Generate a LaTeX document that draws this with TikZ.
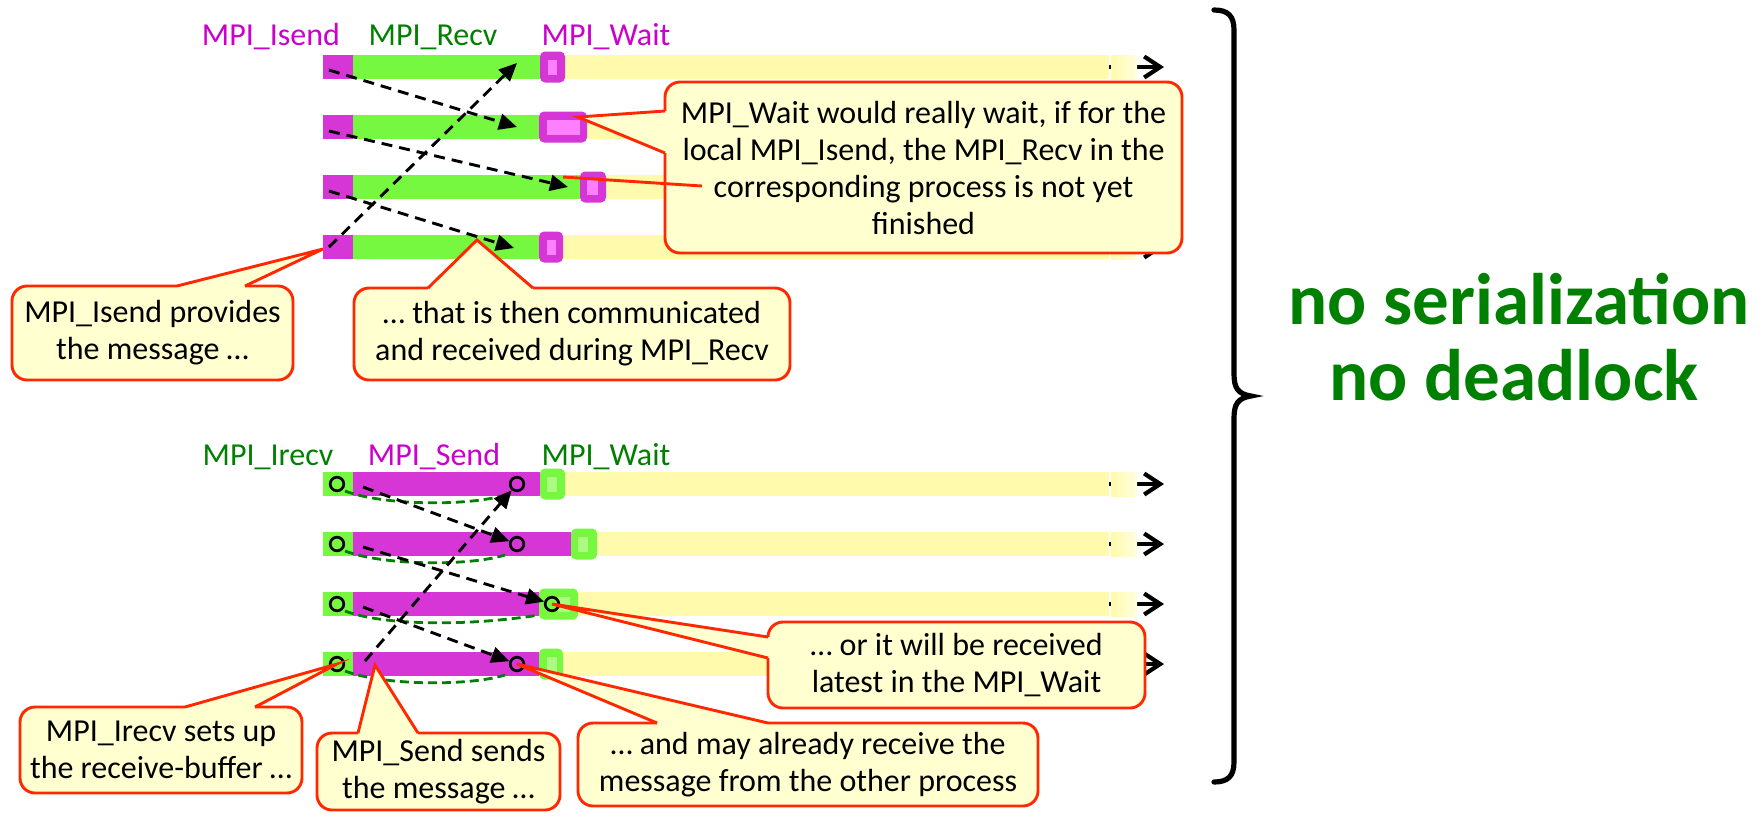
\documentclass[tikz,border=0pt]{standalone}
\usepackage{fontspec}
\setmainfont{Carlito}
\usetikzlibrary{arrows.meta,calc}

\definecolor{mpimag}{RGB}{214,54,214}
\definecolor{mpigreen}{RGB}{118,247,64}
\definecolor{barylw}{RGB}{255,250,172}
\definecolor{pinkin}{RGB}{255,128,255}
\definecolor{greenin}{RGB}{172,250,130}
\definecolor{txtmag}{RGB}{204,0,204}
\definecolor{txtgrn}{RGB}{0,128,0}
\definecolor{callfill}{RGB}{255,255,208}
\definecolor{callred}{RGB}{255,40,0}

% callout with the pointer on its top edge
% #1 name, #2 top-left, #3 bottom-right, #4 left base, #5 tip, #6 right base, #7 text
\newcommand\callouttop[7]{%
  \coordinate (#1nw) at #2;
  \coordinate (#1se) at #3;
  \fill[callbg] (#1nw) rectangle (#1se);
  \fill[callfill] #4 -- #5 -- #6 -- cycle;
  \draw[callrim] #6 -- (#1nw -| #1se) -- (#1se) -- (#1nw |- #1se) -- (#1nw) -- #4;
  \draw[redline] #4 -- #5 -- #6;
  \node[calltext] (#1) at ($(#1nw)!0.5!(#1se)$) {#7};
}
% callout with the pointer on its left edge
% #4 upper base, #5 tip, #6 lower base
\newcommand\calloutleft[7]{%
  \coordinate (#1nw) at #2;
  \coordinate (#1se) at #3;
  \fill[callbg] (#1nw) rectangle (#1se);
  \fill[callfill] #4 -- #5 -- #6 -- cycle;
  \draw[callrim] #4 -- (#1nw) -- (#1nw -| #1se) -- (#1se) -- (#1nw |- #1se) -- #6;
  \draw[redline] #4 -- #5 -- #6;
  \node[calltext] (#1) at ($(#1nw)!0.5!(#1se)$) {#7};
}

\begin{document}
\begin{tikzpicture}[x=0.5pt,y=-0.5pt,
  dasharrow/.style={line width=1.45pt, dash pattern=on 5.5pt off 3.5pt,
    -{Triangle[length=9pt,width=8pt]}},
  arcline/.style={line width=1.4pt, dash pattern=on 4.5pt off 2.5pt, draw=txtgrn},
  ring/.style={circle, draw=black, line width=1.35pt, minimum size=6.8pt, inner sep=0pt},
  timearrow/.style={line width=2.1pt, -{Straight Barb[length=8pt,width=10.5pt]}},
  redline/.style={draw=callred, line width=1.45pt},
  callbg/.style={fill=callfill, rounded corners=7.5pt},
  callrim/.style={draw=callred, line width=1.45pt, rounded corners=7.5pt},
  calltext/.style={align=center, font=\fontsize{16pt}{18.5pt}\selectfont, inner sep=0pt},
  lbl/.style={anchor=base, font=\fontsize{16pt}{18.5pt}\selectfont, inner sep=0pt},
  big/.style={anchor=base, text=txtgrn, font=\bfseries\fontsize{36.5pt}{38pt}\selectfont, inner sep=0pt},
]
\useasboundingbox[fill=white] (0,0) rectangle (1764,816);

% ---------- MPI_Isend / MPI_Recv / MPI_Wait: four processes ----------
\foreach \n/\y/\g/\wr/\il/\ir in {1/67/540/565/548/557, 2/127/539/587/547/580,
                                   3/187/580/606/587/598, 4/247/539/563/547/556} {
  \coordinate (tbeg\n) at (1106,\y);
  \coordinate (tend\n) at (1164,\y);
  \draw[timearrow] (tbeg\n) -- (tend\n);
  \fill[barylw] (\g,\y-12) rectangle (1109,\y+12);
  \shade[left color=barylw, right color=barylw!40] (1111,\y-12) rectangle (1137,\y+12);
  \fill[mpimag] (323,\y-12) rectangle (353,\y+12);
  \fill[mpigreen] (353,\y-12) rectangle (\g,\y+12);
  \fill[mpimag, rounded corners=2.5pt] (\g,\y-15.5) rectangle (\wr,\y+15.5);
  \fill[pinkin] (\il,\y-7.5) rectangle (\ir,\y+7.5);
}

\node[lbl, text=txtmag] (lIsend) at (271,45) {MPI\_Isend};
\node[lbl, text=txtgrn] (lRecv)  at (433,45) {MPI\_Recv};
\node[lbl, text=txtmag] (lWaitT) at (606,45) {MPI\_Wait};

% message transfers between the processes
\coordinate (ts1) at (329,70);  \coordinate (tt1) at (517,63);
\coordinate (ts2) at (329,131); \coordinate (tt2) at (517,127);
\coordinate (ts3) at (329,191); \coordinate (tt3) at (568,187);
\coordinate (ts4) at (329,247); \coordinate (tt4) at (514,248);
\draw[dasharrow] (ts1) -- (tt2);
\draw[dasharrow] (ts2) -- (tt3);
\draw[dasharrow] (ts3) -- (tt4);
\draw[dasharrow] (ts4) -- (tt1);

% ---------- MPI_Irecv / MPI_Send / MPI_Wait: four processes ----------
\foreach \n/\y/\g/\wr/\il/\ir/\ae/\rx in {1/484/540/565/547/557/505/517,
                                          2/544/571/597/578/588/505/517,
                                          3/604/539/578/558/570/539/552,
                                          4/664/539/563/547/557/505/517} {
  \coordinate (bbeg\n) at (1106,\y);
  \coordinate (bend\n) at (1164,\y);
  \draw[timearrow] (bbeg\n) -- (bend\n);
  \fill[barylw] (\g,\y-12) rectangle (1109,\y+12);
  \shade[left color=barylw, right color=barylw!40] (1111,\y-12) rectangle (1137,\y+12);
  \fill[mpigreen] (323,\y-12) rectangle (353,\y+12);
  \fill[mpimag] (353,\y-12) rectangle (\g,\y+12);
  \draw[arcline] (345,\y+7) .. controls (385,\y+22) and (470,\y+22) .. (\ae,\y+11);
  \fill[mpigreen, rounded corners=2.5pt] (\g,\y-15.5) rectangle (\wr,\y+15.5);
  \fill[greenin] (\il,\y-7.5) rectangle (\ir,\y+7.5);
  \node[ring] (lc\n) at (337,\y) {};
  \node[ring] (rc\n) at (\rx,\y) {};
}

\node[lbl, text=txtgrn] (lIrecv) at (268,465) {MPI\_Irecv};
\node[lbl, text=txtmag] (lSend)  at (434,465) {MPI\_Send};
\node[lbl, text=txtgrn] (lWaitB) at (606,465) {MPI\_Wait};

\coordinate (bs1) at (363,487);
\coordinate (bs2) at (363,547);
\coordinate (bs3) at (363,607);
\coordinate (bs4) at (365,661);
\draw[dasharrow] (bs1) -- (rc2);
\draw[dasharrow] (bs2) -- (rc3);
\draw[dasharrow] (bs3) -- (rc4);
\draw[dasharrow] (bs4) -- (rc1);

% ---------- callouts ----------
\coordinate (pA) at (323,249);
\callouttop{cA}{(12,286)}{(293,380)}{(177,286)}{(pA)}{(245,286)}
  {MPI\_Isend provides\\the message …}

\coordinate (pB) at (477,240);
\callouttop{cB}{(354,288)}{(790,380)}{(428,288)}{(pB)}{(533,288)}
  {… that is then communicated\\and received during MPI\_Recv}

\coordinate (pC) at (578,117);
\calloutleft{cC}{(665,82)}{(1182,253)}{(665,111)}{(pC)}{(665,153)}
  {MPI\_Wait would really wait, if for the\\local MPI\_Isend, the MPI\_Recv in the\\corresponding process is not yet\\finished}
\coordinate (pC2) at (563,177);
\coordinate (pC2end) at (702,186);
\draw[redline] (pC2) -- (pC2end);

\calloutleft{cD}{(768,622)}{(1145,708)}{(768,637)}{(rc3.center)}{(768,658)}
  {… or it will be received\\latest in the MPI\_Wait}

\callouttop{cE}{(578,723)}{(1038,806)}{(657,723)}{(rc4.center)}{(768,723)}
  {… and may already receive the\\message from the other process}

\callouttop{cF}{(20,707)}{(302,793)}{(185,707)}{(lc4.center)}{(255,707)}
  {MPI\_Irecv sets up\\the receive-buffer …}

\coordinate (pG) at (375,665);
\callouttop{cG}{(317,733)}{(560,810)}{(358,733)}{(pG)}{(418,733)}
  {MPI\_Send sends\\the message …}

% ---------- brace and conclusion ----------
\draw[line width=2.6pt, line cap=round]
  (1214,10) .. controls (1228,10) and (1234,16) .. (1234,30) -- (1234,374)
  .. controls (1234,388) and (1238,394) .. (1251,396)
  .. controls (1238,398) and (1234,404) .. (1234,418) -- (1234,762)
  .. controls (1234,776) and (1228,782) .. (1214,782);

\node[big] (concA) at (1519,324) {no serialization};
\node[big] (concB) at (1514,400) {no deadlock};
\end{tikzpicture}
\end{document}
